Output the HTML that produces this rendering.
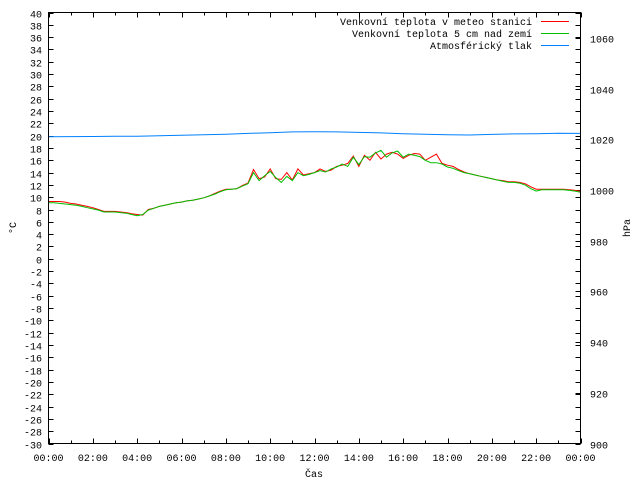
<!DOCTYPE html>
<html><head><meta charset="utf-8"><style>
html,body{margin:0;padding:0;background:#fff}
svg text{font-family:"Liberation Mono","DejaVu Sans Mono",monospace;font-size:10px;fill:#000}
</style></head><body>
<svg id="chart" width="640" height="480" viewBox="0 0 640 480" xmlns="http://www.w3.org/2000/svg">
<rect x="0" y="0" width="640" height="480" fill="#fff"/>
<g id="axes"></g>
<g id="series"></g>
<rect x="48.5" y="12.5" width="532" height="431" fill="none" stroke="#000" stroke-width="1"/>
<g>
<text x="532" y="25" text-anchor="end">Venkovní teplota v meteo stanici</text>
<line x1="541" y1="21.5" x2="569" y2="21.5" stroke="#ff0000"/>
<text x="532" y="37" text-anchor="end">Venkovní teplota 5 cm nad zemí</text>
<line x1="541" y1="33.5" x2="569" y2="33.5" stroke="#00c000"/>
<text x="532" y="49" text-anchor="end">Atmosférický tlak</text>
<line x1="541" y1="45.5" x2="569" y2="45.5" stroke="#0080ff"/>
</g>
<text x="314" y="477" text-anchor="middle">Čas</text>
<text x="0" y="0" text-anchor="middle" transform="translate(16,228) rotate(-90)">°C</text>
<text x="0" y="0" text-anchor="middle" transform="translate(630,228) rotate(-90)">hPa</text>
</svg>
<script>
const xTickLabels = ["00:00","02:00","04:00","06:00","08:00","10:00","12:00","14:00","16:00","18:00","20:00","22:00","00:00"];
const yTicks = [-30,-28,-26,-24,-22,-20,-18,-16,-14,-12,-10,-8,-6,-4,-2,0,2,4,6,8,10,12,14,16,18,20,22,24,26,28,30,32,34,36,38,40];
const y2Ticks = [900,920,940,960,980,1000,1020,1040,1060];
const stationTemp = [9.3,9.3,9.3,9.2, 9.0,8.9,8.7,8.5, 8.3,8.0,7.7,7.7, 7.7,7.6,7.5,7.3, 7.2,7.1,8.0,8.2, 8.5,8.7,8.9,9.1, 9.2,9.4,9.5,9.7, 9.9,10.2,10.6,11.0, 11.3,11.3,11.4,11.9, 12.3,14.5,13.0,13.3, 14.6,13.0,12.9,14.0, 12.8,14.6,13.6,13.8, 14.0,14.6,14.2,14.4, 15.0,15.2,15.5,16.7, 15.0,16.8,16.0,17.3, 16.2,17.0,17.3,17.0, 16.3,16.8,17.1,17.0, 16.0,16.5,17.0,15.5, 15.2,15.0,14.5,14.1, 13.8,13.6,13.4,13.2, 13.0,12.8,12.7,12.5, 12.5,12.4,12.2,11.7, 11.3,11.3,11.3,11.3, 11.3,11.3,11.2,11.1, 11.0];
const groundTemp = [9.1,9.1,9.0,8.9, 8.8,8.7,8.5,8.3, 8.1,7.9,7.6,7.6, 7.6,7.5,7.4,7.2, 7.0,7.2,7.9,8.2, 8.5,8.7,8.9,9.1, 9.2,9.4,9.5,9.7, 9.9,10.2,10.5,10.9, 11.2,11.3,11.4,11.8, 12.2,14.0,12.7,13.5, 14.2,13.2,12.4,13.4, 12.7,14.0,13.5,13.7, 14.0,14.3,14.1,14.6, 14.9,15.4,15.0,16.5, 15.3,16.6,16.5,17.2, 17.6,16.5,17.2,17.5, 16.5,17.0,16.8,16.6, 16.0,15.6,15.6,15.4, 14.9,14.7,14.3,14.0, 13.8,13.6,13.4,13.2, 13.0,12.8,12.6,12.4, 12.4,12.3,12.0,11.4, 11.0,11.2,11.2,11.2, 11.2,11.2,11.1,11.0, 10.8];
const pressure = [1021.0,1021.05,1021.1,1021.15,1021.2,1021.4,1021.6,1021.8,1022.0,1022.3,1022.6,1022.9,1023.0,1022.9,1022.7,1022.5,1022.2,1022.0,1021.8,1021.7,1021.9,1022.1,1022.2,1022.4,1022.3];

const NS="http://www.w3.org/2000/svg";
const L=48.5,R=580.5,T=12.5,B=443.5;
const xH=h=>L+(R-L)*h/24;
const yT=v=>B-(B-T)*(v+30)/70;
const yP=p=>B-(B-T)*(p-900)/170;
const axes=document.getElementById('axes');
const series=document.getElementById('series');
function mk(tag,attrs,parent){const e=document.createElementNS(NS,tag);for(const k in attrs)e.setAttribute(k,attrs[k]);parent.appendChild(e);return e;}

yTicks.forEach(v=>{
  const y=Math.round(yT(v))+0.5;
  const t1=mk('line',{x1:L,y1:y,x2:L+5,y2:y,stroke:'#000'},axes);
  
  
  const t2=mk('line',{x1:R-5,y1:y,x2:R,y2:y,stroke:'#000'},axes);
  
  
  const tx=mk('text',{x:42,y:y+4,'text-anchor':'end'},axes);
  tx.textContent=String(v).replace('-','−').replace('−','-');
  
  
});
y2Ticks.forEach(p=>{
  const y=Math.round(yP(p))+0.5;
  const t=mk('line',{x1:R-5,y1:y,x2:R,y2:y,stroke:'#000'},axes);
  
  
  const tx=mk('text',{x:590,y:y+4},axes);
  tx.textContent=p;
  
  
});
for(let h=0;h<=24;h++){
  const x=Math.round(xH(h))+0.5;
  const len=h%2===0?5:3;
  const t=mk('line',{x1:x,y1:B,x2:x,y2:B-len,stroke:'#000'},axes);
  
  
  const t2=mk('line',{x1:x,y1:T,x2:x,y2:T+len,stroke:'#000'},axes);
  
  
}
xTickLabels.forEach((lab,i)=>{
  const tx=mk('text',{x:xH(i*2),y:461,'text-anchor':'middle'},axes);
  tx.textContent=lab;
  
  
});
function line(arr,step,yf,color,name){
  const pts=arr.map((v,i)=>xH(i*step).toFixed(1)+','+yf(v).toFixed(1)).join(' ');
  const pl=mk('polyline',{points:pts,fill:'none',stroke:color,'stroke-width':1},series);
  
  
}
line(pressure,1,yP,'#0080ff','pressure-line');
line(stationTemp,0.25,yT,'#ff0000','station-temp-line');
line(groundTemp,0.25,yT,'#00c000','ground-temp-line');
</script>
</body></html>
